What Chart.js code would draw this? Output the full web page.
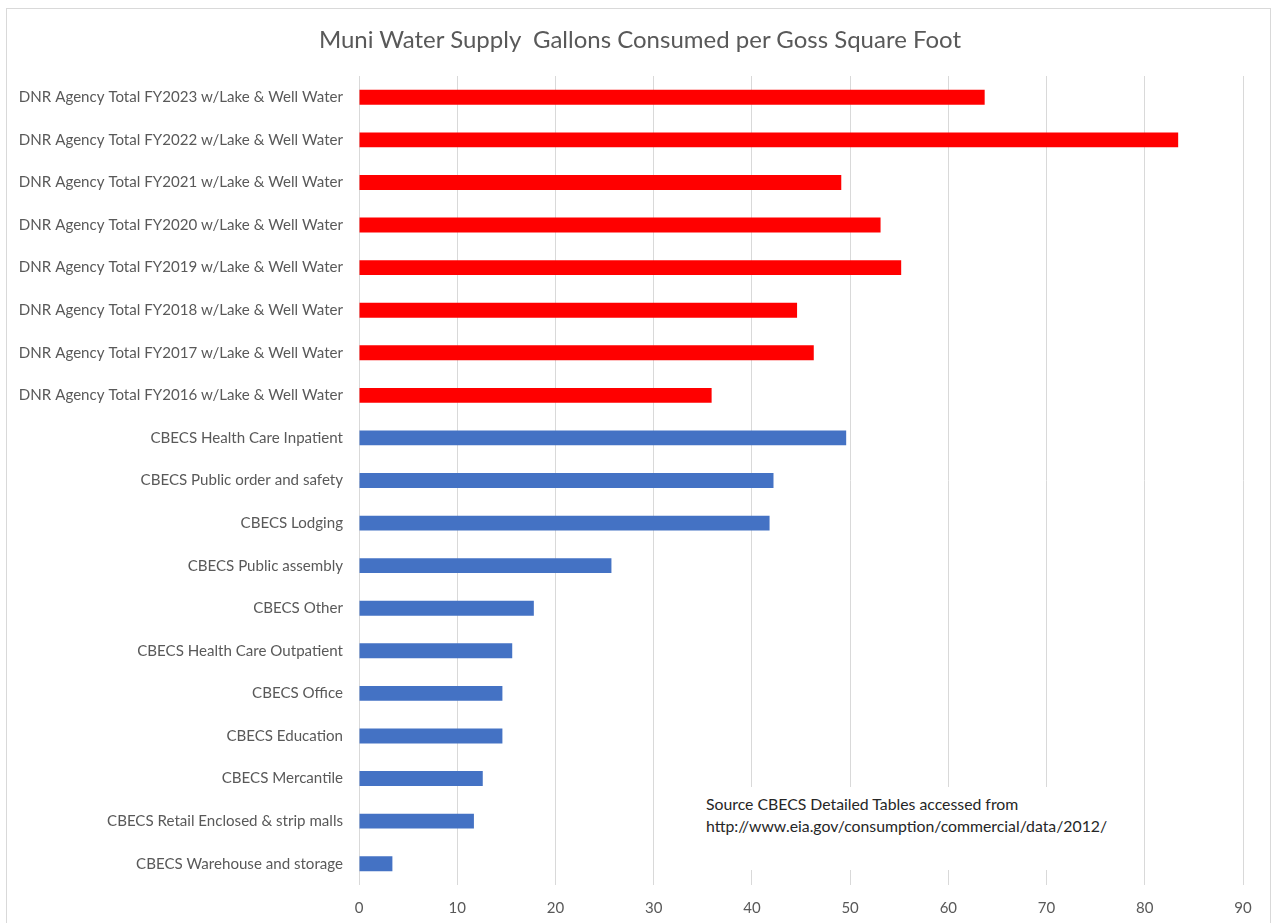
<!DOCTYPE html>
<html>
<head>
<meta charset="utf-8">
<script src="https://cdn.jsdelivr.net/npm/chart.js@4.4.1/dist/chart.umd.min.js"></script>
<style>
  html, body { margin: 0; padding: 0; background: #fff; }
  #wrap { position: relative; width: 1275px; height: 923px; overflow: hidden; }
  #frame { position: absolute; left: 6px; top: 8px; width: 1265px; height: 930px; border: 1px solid #d9d9d9; box-sizing: border-box; pointer-events: none; }
  #title { position: absolute; left: 0; top: 24px; width: 1280px; text-align: center; font-family: Lato, "Open Sans", sans-serif; font-size: 24px; color: #595959; white-space: pre; }
  #note { position: absolute; left: 700px; top: 787px; width: 420px; height: 83px; background: #fff; font-family: Lato, "Open Sans", sans-serif; font-size: 15.8px; color: #262626; line-height: 22px; padding: 6px 0 0 6px; box-sizing: border-box; }
  canvas { position: absolute; left: 0; top: 0; }
</style>
</head>
<body>
<div id="wrap">
  <canvas id="c" width="1275" height="923"></canvas>
  <div id="frame"></div>
  <div id="title">Muni Water Supply  Gallons Consumed per Goss Square Foot</div>
  <div id="note">Source CBECS Detailed Tables accessed from<br>http://www.eia.gov/consumption/commercial/data/2012/</div>
</div>
<script>
const categories = [
  "DNR Agency Total FY2023 w/Lake & Well Water",
  "DNR Agency Total FY2022 w/Lake & Well Water",
  "DNR Agency Total FY2021 w/Lake & Well Water",
  "DNR Agency Total FY2020 w/Lake & Well Water",
  "DNR Agency Total FY2019 w/Lake & Well Water",
  "DNR Agency Total FY2018 w/Lake & Well Water",
  "DNR Agency Total FY2017 w/Lake & Well Water",
  "DNR Agency Total FY2016 w/Lake & Well Water",
  "CBECS Health Care Inpatient",
  "CBECS Public order and safety",
  "CBECS Lodging",
  "CBECS Public assembly",
  "CBECS Other",
  "CBECS Health Care Outpatient",
  "CBECS Office",
  "CBECS Education",
  "CBECS Mercantile",
  "CBECS Retail Enclosed & strip malls",
  "CBECS Warehouse and storage"
];
const values = [63.7, 83.4, 49.1, 53.1, 55.2, 44.6, 46.3, 35.9, 49.6, 42.2, 41.8, 25.7, 17.8, 15.6, 14.6, 14.6, 12.6, 11.7, 3.4];
const groups = ["DNR","DNR","DNR","DNR","DNR","DNR","DNR","DNR","CBECS","CBECS","CBECS","CBECS","CBECS","CBECS","CBECS","CBECS","CBECS","CBECS","CBECS"];
const groupColors = { DNR: "#FF0000", CBECS: "#4472C4" };
const xTicks = [0, 10, 20, 30, 40, 50, 60, 70, 80, 90];

const fontFam = 'Lato, "Open Sans", sans-serif';

new Chart(document.getElementById('c'), {
  type: 'bar',
  data: {
    labels: categories,
    datasets: [{
      data: values,
      backgroundColor: groups.map(g => groupColors[g]),
      borderWidth: 0,
      categoryPercentage: 1.0,
      barPercentage: 0.35
    }]
  },
  options: {
    indexAxis: 'y',
    responsive: false,
    animation: false,
    layout: { padding: { left: 0, right: 32, top: 76, bottom: 0 } },
    plugins: { legend: { display: false }, title: { display: false }, tooltip: { enabled: false } },
    scales: {
      x: {
        min: 0, max: 90,
        afterBuildTicks: (s) => { s.ticks = xTicks.map(v => ({ value: v })); },
        afterFit: (s) => { s.height = 38; },
        grid: { color: '#d9d9d9', lineWidth: 1, drawTicks: false },
        border: { display: false },
        ticks: { color: '#595959', font: { family: fontFam, size: 15 }, padding: 14 }
      },
      y: {
        afterFit: (s) => { s.width = 359; },
        grid: { display: false, drawTicks: false },
        border: { display: false },
        ticks: { color: '#595959', font: { family: fontFam, size: 15.1 }, padding: 16, autoSkip: false }
      }
    }
  }
});
</script>
</body>
</html>
